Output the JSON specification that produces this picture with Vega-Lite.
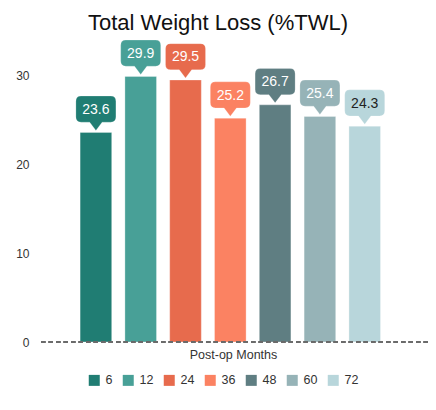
{
  "$schema": "https://vega.github.io/schema/vega-lite/v6.json",
  "width": 390,
  "height": 302,
  "autosize": {"type": "none"},
  "padding": {"left": 38, "top": 40, "right": 8, "bottom": 68},
  "background": "white",
  "config": {
    "font": "Liberation Sans",
    "view": {"stroke": null}
  },
  "title": {
    "text": "Total Weight Loss (%TWL)",
    "fontSize": 22,
    "fontWeight": "normal",
    "color": "#111111",
    "anchor": "middle",
    "dx": -15,
    "offset": 3
  },
  "data": {
    "values": [
      {"month": 6, "twl": 23.6},
      {"month": 12, "twl": 29.9},
      {"month": 24, "twl": 29.5},
      {"month": 36, "twl": 25.2},
      {"month": 48, "twl": 26.7},
      {"month": 60, "twl": 25.4},
      {"month": 72, "twl": 24.3}
    ]
  },
  "encoding": {
    "x": {
      "field": "month",
      "type": "ordinal",
      "sort": null,
      "scale": {"paddingInner": 0.295, "paddingOuter": 1.0, "align": 0.47},
      "axis": {
        "title": "Post-op Months",
        "labels": false,
        "ticks": false,
        "domain": false,
        "titleFontSize": 12.5,
        "titleFontWeight": "normal",
        "titleColor": "#333333",
        "titlePadding": 6
      }
    },
    "y": {
      "field": "twl",
      "type": "quantitative",
      "scale": {"domain": [0, 34], "nice": false},
      "axis": {
        "title": null,
        "values": [0, 10, 20, 30],
        "grid": false,
        "ticks": false,
        "domain": false,
        "labelFontSize": 12,
        "labelColor": "#333333",
        "labelPadding": 9
      }
    }
  },
  "layer": [
    {
      "mark": {"type": "bar", "stroke": "white", "strokeOpacity": 0.3, "strokeWidth": 1},
      "encoding": {
        "color": {
          "field": "month",
          "type": "ordinal",
          "scale": {
            "domain": [6, 12, 24, 36, 48, 60, 72],
            "range": ["#207d73", "#48a097", "#e76b4d", "#fb8262", "#5f7e82", "#96b3b7", "#b8d6db"]
          },
          "legend": {
            "title": null,
            "orient": "none",
            "direction": "horizontal",
            "legendX": 50,
            "legendY": 334,
            "symbolType": "square",
            "symbolSize": 121,
            "symbolStrokeWidth": 0,
            "labelFontSize": 12.5,
            "labelColor": "#333333",
            "labelOffset": 5,
            "columnPadding": 9,
            "padding": 0
          }
        }
      }
    },
    {
      "mark": {
        "type": "point",
        "filled": true,
        "opacity": 1,
        "shape": "M 0 0 L -0.31 -0.41 L -0.744 -0.41 Q -1 -0.41 -1 -0.666 L -1 -1.46 Q -1 -1.716 -0.744 -1.716 L 0.744 -1.716 Q 1 -1.716 1 -1.46 L 1 -0.666 Q 1 -0.41 0.744 -0.41 L 0.31 -0.41 Z",
        "size": 1600,
        "yOffset": -2,
        "stroke": "white",
        "strokeOpacity": 0.2,
        "strokeWidth": 1
      },
      "encoding": {
        "color": {"field": "month", "type": "ordinal", "legend": null}
      }
    },
    {
      "mark": {"type": "text", "fontSize": 14, "baseline": "middle", "dy": -22.5},
      "encoding": {
        "text": {"field": "twl", "type": "quantitative", "format": ".1f"},
        "color": {
          "condition": {"test": "datum.month == 72", "value": "#222222"},
          "value": "white"
        }
      }
    },
    {
      "mark": {"type": "rule", "strokeDash": [4.5, 3], "color": "#6a6a6a", "strokeWidth": 1},
      "encoding": {
        "y": {"datum": 0},
        "x": null
      }
    }
  ]
}
